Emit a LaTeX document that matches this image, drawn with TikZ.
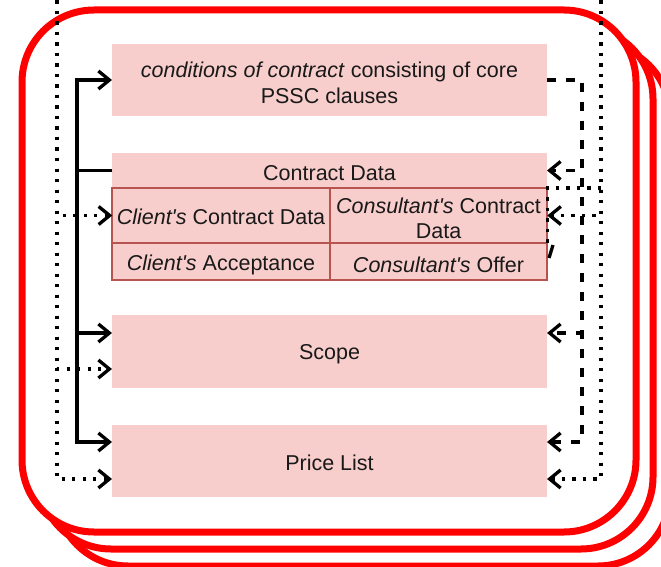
\documentclass[tikz,border=0pt]{standalone}
\usepackage{fontspec}
\setmainfont{Liberation Sans}
\usetikzlibrary{arrows.meta,calc}
\definecolor{pinkf}{HTML}{F8CECC}
\definecolor{cellb}{HTML}{B85450}
\definecolor{redb}{HTML}{FF0000}
\newcommand{\lblfont}{\fontsize{21.5}{25.5}\selectfont}
\newcommand{\aps}{\textquotesingle}
\tikzset{
  redrect/.style={draw=redb, fill=white, line width=7pt, rounded corners=72pt},
  pbox/.style={fill=pinkf, draw=none, minimum width=435pt, minimum height=72pt, inner sep=0pt, outer sep=0pt},
  cellbox/.style={fill=pinkf, draw=cellb, line width=1.6pt, minimum width=217.5pt, inner sep=0pt, outer sep=0pt},
  lbl/.style={font=\lblfont, align=center, inner sep=0pt, text=black!90},
  tipv/.style={-{Straight Barb[length=11pt,width=18pt]}},
  solidc/.style={line width=3.3pt, black},
  dotc/.style={line width=3.3pt, black, dash pattern=on 3.3pt off 7.2pt},
  dashc/.style={line width=3.3pt, black, dash pattern=on 9pt off 10pt},
}
\begin{document}
\begin{tikzpicture}[x=1pt,y=-1pt]
\clip (0,0) rectangle (661,567);
\useasboundingbox (0,0) rectangle (661,567);
% stacked red frames
\draw[redrect] (56,44) rectangle (670,566);
\draw[redrect] (39,27) rectangle (653,549);
\draw[redrect] (22,10) rectangle (636,532);
% boxes
\node[pbox] (cond) at (329.5,80) {};
\node[pbox, minimum height=35pt] (cdh) at (329.5,170.5) {};
\node[cellbox, minimum height=55pt] (ccd) at (221,215.5) {};
\node[cellbox, minimum height=55pt] (kcd) at (438.5,215.5) {};
\node[cellbox, minimum height=37pt] (cacc) at (221,261.5) {};
\node[cellbox, minimum height=37pt] (coff) at (438.5,261.5) {};
\node[pbox, minimum height=73pt] (scope) at (329.5,351.5) {};
\node[pbox, minimum height=72pt] (price) at (329.5,461) {};
% texts
\node[lbl] (condt) at ($(cond.center)+(0,3)$) {\textit{conditions of contract} consisting of core\\PSSC clauses};
\node[lbl] (cdht) at ($(cdh.center)+(0,3)$) {Contract Data};
\node[lbl] (ccdt) at ($(ccd.center)+(0,1.5)$) {\textit{Client\aps s} Contract Data};
\node[lbl] (kcdt) at ($(kcd.center)+(0,3)$) {\textit{Consultant\aps s} Contract\\Data};
\node[lbl] (cacct) at ($(cacc.center)+(0,3)$) {\textit{Client\aps s} Acceptance};
\node[lbl] (cofft) at ($(coff.center)+(0,3)$) {\textit{Consultant\aps s} Offer};
\node[lbl] (scopet) at ($(scope.center)+(0,3)$) {Scope};
\node[lbl] (pricet) at ($(price.center)+(0,2)$) {Price List};
% free ends at top
\coordinate (topL) at (57,-10);
\coordinate (topR) at (601,-10);
% left solid tree from Contract Data
\draw[solidc, tipv] (cdh.west) -- ++(-35,0) |- (cond.west);
\draw[solidc, tipv] (cdh.west) -- ++(-35,0) |- ($(scope.north west)+(0,18)$);
\draw[solidc, tipv] (cdh.west) -- ++(-35,0) |- ($(price.north west)+(0,17)$);
% left dotted
\draw[dotc, tipv] (topL) |- (ccd.west);
\draw[dotc, tipv] (topL) |- ($(scope.north west)+(0,54)$);
\draw[dotc, tipv] (topL) |- ($(price.north west)+(0,54)$);
% right dashed from conditions
\draw[dashc, tipv] (cond.east) -- ++(35,0) |- (cdh.east);
\draw[dashc, tipv] (cond.east) -- ++(35,0) |- ($(scope.north east)+(0,18)$);
\draw[dashc, tipv] (cond.east) -- ++(35,0) |- ($(price.north east)+(0,17)$);
% right dotted
\draw[dotc, tipv] (topR) |- (kcd.east);
\draw[dotc, tipv] (topR) |- ($(price.north east)+(0,54)$);
\coordinate (rdj) at (601,188);
\draw[dotc] (rdj) -- (kcd.north east) -- (kcd.south east);
\coordinate (dsA) at (553,245);
\coordinate (dsB) at (549,258);
\draw[line width=3.3pt] (dsA) -- (dsB);
\end{tikzpicture}
\end{document}
